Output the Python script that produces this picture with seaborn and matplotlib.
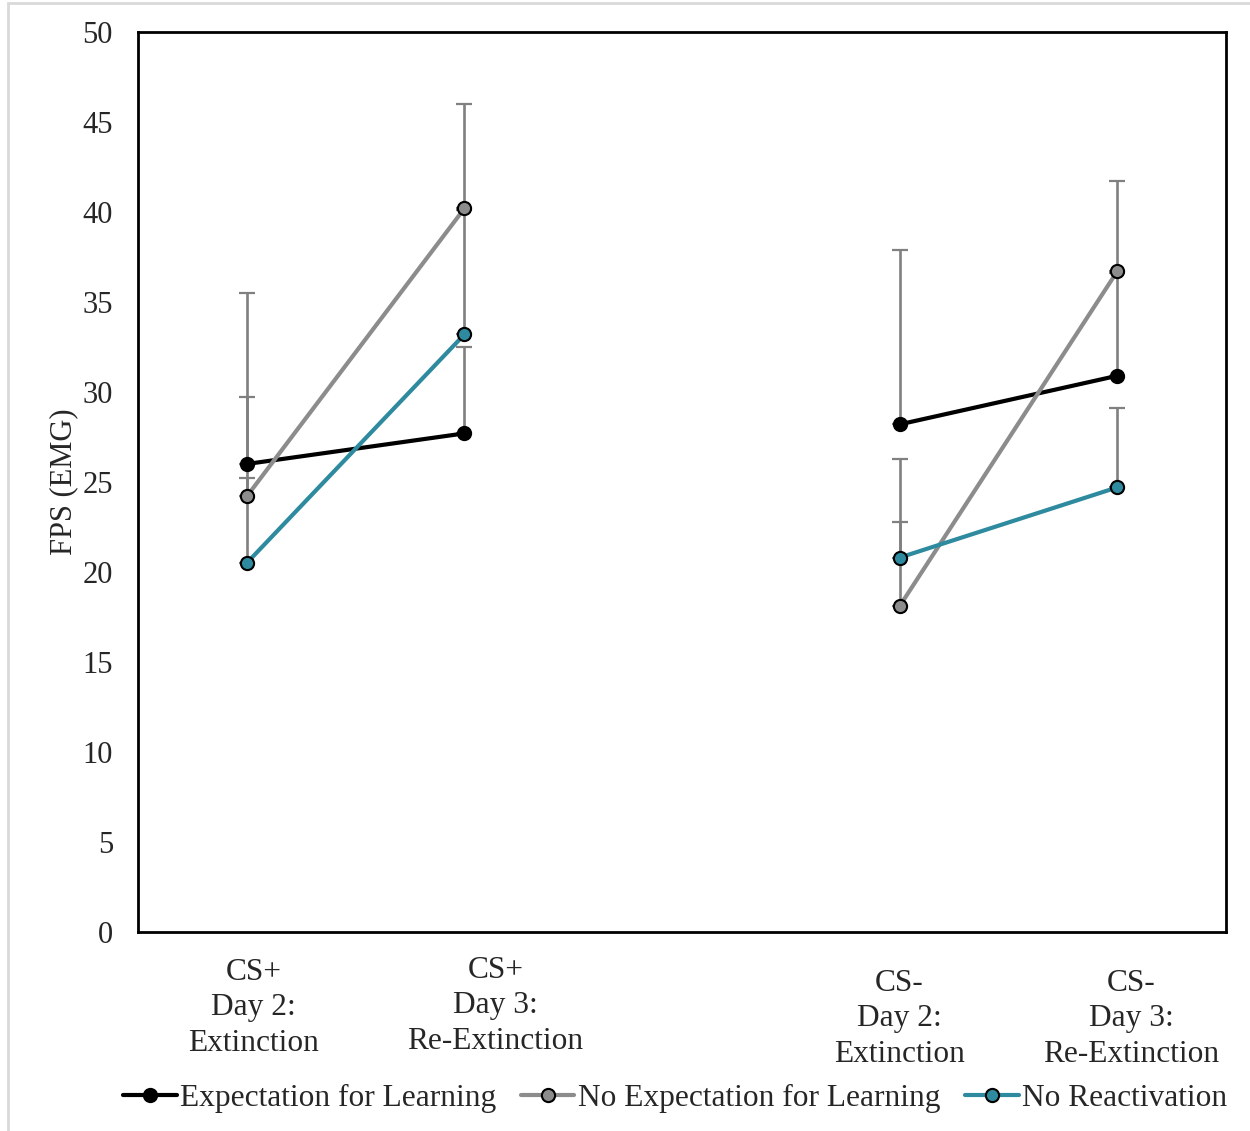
import matplotlib
matplotlib.use("Agg")
import matplotlib.pyplot as plt
from matplotlib.lines import Line2D
from matplotlib.patches import Rectangle
import seaborn as sns
import pandas as pd
import numpy as np

# ---- data ----
categories = ["CS+\nDay 2:\nExtinction", "CS+\nDay 3:\nRe-Extinction",
              "CS-\nDay 2:\nExtinction", "CS-\nDay 3:\nRe-Extinction"]
cat_pos = [0.5, 1.5, 3.5, 4.5]
blocks = ["CS+", "CS+", "CS-", "CS-"]
series_names = ["Expectation for Learning", "No Expectation for Learning", "No Reactivation"]
expectation = [26.0, 27.7, 28.2, 30.9]
no_expectation = [24.2, 40.2, 18.1, 36.7]
no_reactivation = [20.5, 33.2, 20.8, 24.7]
err_expectation = [9.5, 4.8, 9.7, 5.7]
err_no_expectation = [5.5, 5.8, 4.7, 5.0]
err_no_reactivation = [4.7, 6.9, 5.5, 4.4]
y_ticks = [0, 5, 10, 15, 20, 25, 30, 35, 40, 45, 50]

values = [expectation, no_expectation, no_reactivation]
errors = [err_expectation, err_no_expectation, err_no_reactivation]
colors = ["#000000", "#8C8C8C", "#2E8A9E"]

rows = []
for name, vals in zip(series_names, values):
    for p, b, v in zip(cat_pos, blocks, vals):
        rows.append({"pos": p, "val": v, "series": name, "block": b})
df = pd.DataFrame(rows)

sns.set_style("white")
plt.rcParams["font.family"] = ["Liberation Serif", "DejaVu Serif"]
FS = 22
FS_TXT = 22.6

fig = plt.figure(figsize=(12.5, 11.31), dpi=100)
ax = fig.add_axes([138 / 1250, 1 - 932 / 1131, (1226 - 138) / 1250, 900 / 1131])

# error bars (upper only)
for vals, errs in zip(values, errors):
    ax.errorbar(cat_pos, vals, yerr=[np.zeros(len(errs)), errs], fmt="none",
                ecolor="#808080", elinewidth=1.9, capsize=5.5, capthick=1.6, zorder=1)

sns.lineplot(data=df, x="pos", y="val", hue="series", units="block", estimator=None,
             palette=dict(zip(series_names, colors)), hue_order=series_names,
             marker="o", markersize=9.5, markeredgecolor="black", markeredgewidth=1.5,
             linewidth=3.0, legend=False, ax=ax, zorder=3, sort=False)

ax.set_xlim(0, 5)
ax.set_ylim(0, 50)
ax.set_yticks(y_ticks)
ax.set_yticklabels([str(t) for t in y_ticks], fontsize=FS)
ax.set_xticks([])
ax.set_xlabel("")
ax.set_ylabel("FPS (EMG)", fontsize=FS)
ax.yaxis.set_label_coords(-0.055, 0.5)
ax.tick_params(axis="y", length=0, pad=18)
for s in ax.spines.values():
    s.set_visible(True)
    s.set_color("black")
    s.set_linewidth(2.0)

# category labels
label_offsets = [(7, 0), (31, 2), (0, -11), (14, -11)]
for p, lab, (dx, dy) in zip(cat_pos, categories, label_offsets):
    ax.annotate(lab, xy=(p, -0.0844), xycoords=("data", "axes fraction"),
                xytext=(dx * 0.72, dy * 0.72), textcoords="offset points",
                ha="center", va="center", fontsize=FS_TXT, linespacing=1.28,
                annotation_clip=False)

handles = [Line2D([], [], color=c, lw=3.0, marker="o", markersize=9.5,
                  markeredgecolor="black", markeredgewidth=1.5) for c in colors]
fig.legend(handles, series_names, loc="center", bbox_to_anchor=(0.54, 0.029),
           ncol=3, frameon=False, fontsize=FS_TXT, handlelength=1.7,
           handletextpad=0.1, columnspacing=0.8)

# light gray outer border
fig.patches.append(Rectangle((8 / 1250, -0.01), 1.1, 1 - 3 / 1131 + 0.01,
                             transform=fig.transFigure, fill=False,
                             edgecolor="#D9D9D9", linewidth=2, zorder=0))

fig.savefig("out.png", dpi=100)
